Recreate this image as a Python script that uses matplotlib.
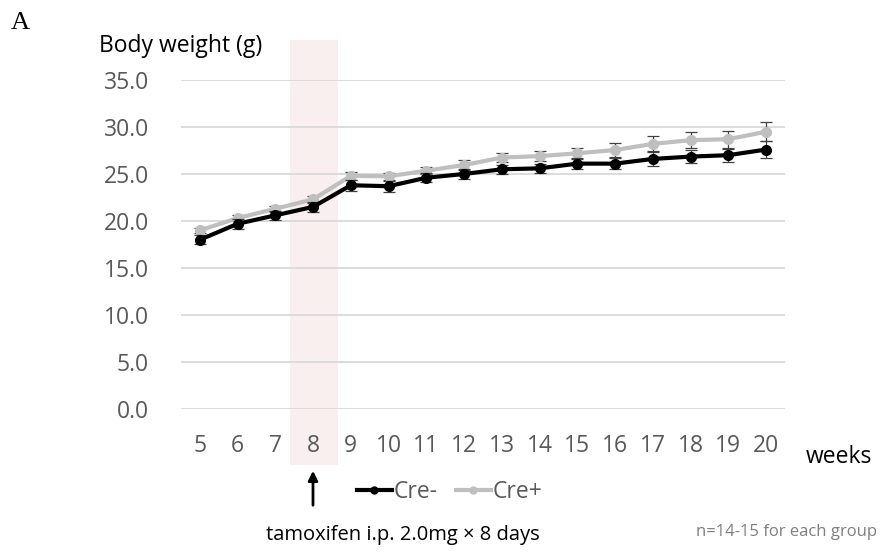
import matplotlib.pyplot as plt
from matplotlib.lines import Line2D

# body weight by week, mean and error
weeks = [5, 6, 7, 8, 9, 10, 11, 12, 13, 14, 15, 16, 17, 18, 19, 20]
cre_neg = [18.0, 19.7, 20.6, 21.5, 23.8, 23.7, 24.6, 25.0, 25.5, 25.6, 26.1, 26.1, 26.6, 26.85, 27.0, 27.6]
cre_neg_err = [0.5, 0.5, 0.5, 0.5, 0.6, 0.6, 0.5, 0.5, 0.5, 0.5, 0.6, 0.6, 0.7, 0.7, 0.7, 0.9]
cre_pos = [19.0, 20.3, 21.3, 22.3, 24.8, 24.75, 25.35, 25.95, 26.75, 26.9, 27.2, 27.55, 28.2, 28.6, 28.7, 29.5]
cre_pos_err = [0.3, 0.3, 0.3, 0.4, 0.4, 0.4, 0.4, 0.5, 0.5, 0.5, 0.6, 0.7, 0.8, 0.85, 0.9, 1.0]
yticks = [0, 5, 10, 15, 20, 25, 30, 35]

sans = 'Open Sans'
tick_grey = '#595959'

fig = plt.figure(figsize=(8.81, 5.52), dpi=100)
ax = fig.add_axes([0.2054, 0.2591, 0.6856, 0.596])

# tamoxifen injection week
ax.axvspan(7.4, 8.66, ymin=-0.17, ymax=1.122, color='#f8efee', zorder=0, clip_on=False, lw=0)

ax.errorbar(weeks, cre_pos, yerr=cre_pos_err, color='#bfbfbf', lw=3, marker='o', ms=7,
            ecolor='#404040', elinewidth=0.9, capsize=4, capthick=0.9, zorder=3)
ax.errorbar(weeks, cre_neg, yerr=cre_neg_err, color='black', lw=3, marker='o', ms=7,
            ecolor='#404040', elinewidth=0.9, capsize=4, capthick=0.9, zorder=4)

ax.set_xlim(4.5, 20.5)
ax.set_ylim(0, 35)
ax.set_xticks(weeks)
ax.set_xticklabels([str(w) for w in weeks], fontsize=16.5, color=tick_grey, family=sans)
ax.set_yticks(yticks)
ax.set_yticklabels(['%.1f' % v for v in yticks], fontsize=16.5, color=tick_grey, family=sans)
ax.tick_params(axis='x', length=0, pad=18)
ax.tick_params(axis='y', length=0, pad=23)
ax.yaxis.grid(True, color='#d9d9d9', lw=1.3)
ax.set_axisbelow(True)
for s in ax.spines.values():
    s.set_visible(False)

fig.text(11 / 881, 1 - 23 / 552, 'A', family='Liberation Serif', fontsize=19, va='center')
fig.text(99 / 881, 1 - 46 / 552, 'Body weight (g)', family=sans, fontsize=16.5, va='center')
fig.text(806 / 881, 1 - 457 / 552, 'weeks', family=sans, fontsize=16.5, va='center')

handles = [
    Line2D([], [], color='black', lw=3, marker='o', ms=5),
    Line2D([], [], color='#bfbfbf', lw=3, marker='o', ms=5),
]
fig.legend(handles, ['Cre-', 'Cre+'], loc='center', bbox_to_anchor=(450 / 881, 1 - 492 / 552),
           ncol=2, frameon=False, handlelength=1.5, handletextpad=0.1, columnspacing=0.8,
           prop={'family': sans, 'size': 16.5}, labelcolor=tick_grey)

ax.annotate('', xy=(313 / 881, 1 - 468 / 552), xytext=(313 / 881, 1 - 508 / 552),
            xycoords='figure fraction', textcoords='figure fraction',
            arrowprops=dict(arrowstyle='-|>', color='black', lw=2, mutation_scale=14))
fig.text(403 / 881, 1 - 535 / 552, 'tamoxifen i.p. 2.0mg × 8 days', family=sans, fontsize=14.5,
         ha='center', va='center')
fig.text(786 / 881, 1 - 532 / 552, 'n=14-15 for each group', family=sans, fontsize=12,
         color='#7f7f7f', ha='center', va='center')

fig.savefig('out.png', dpi=100)
